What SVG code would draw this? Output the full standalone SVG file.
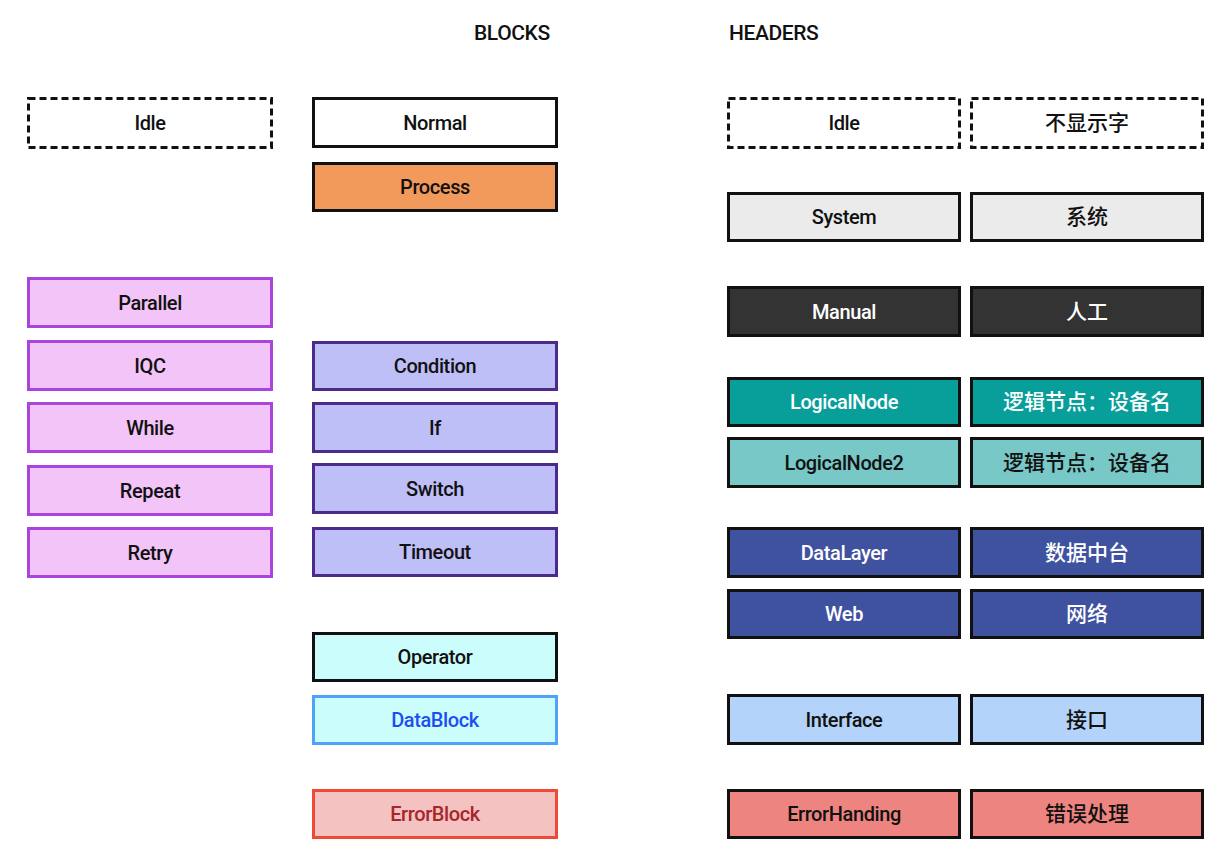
<svg xmlns="http://www.w3.org/2000/svg" width="1228" height="866" viewBox="0 0 1228 866">
<style>
text{font-family:Roboto,"Noto Sans CJK SC","Liberation Sans",sans-serif;font-size:20px;font-weight:500;text-anchor:middle;dominant-baseline:central;fill:#111;letter-spacing:-0.4px}
.cn{font-family:"Noto Sans CJK SC",sans-serif;font-size:21px;font-weight:500;letter-spacing:0;transform:translateY(-2px)}
.title{font-size:21px;text-anchor:start;dominant-baseline:alphabetic}
rect{stroke-width:3}
.idle{fill:#fff;stroke:#111;stroke-dasharray:7 4}
.normal{fill:#fff;stroke:#111}
.process{fill:#F2995C;stroke:#111}
.loop{fill:#F3C4F8;stroke:#A945DE}
.cond{fill:#BFBFF7;stroke:#4B2A8A}
.oper{fill:#CCFDFD;stroke:#111}
.data{fill:#CCFDFD;stroke:#4EA2F7}
.err{fill:#F5C2C2;stroke:#EE4A35}
.sys{fill:#EBEBEB;stroke:#111}
.man{fill:#333;stroke:#111}
.ln{fill:#089E9A;stroke:#111}
.ln2{fill:#78C8C8;stroke:#111}
.dl{fill:#3F52A0;stroke:#111}
.itf{fill:#B3D3FB;stroke:#111}
.eh{fill:#EE8480;stroke:#111}
.w{fill:#fff}
.blue{fill:#1B4FEF}
.red{fill:#A6262A}
</style>
<text class="title" x="474" y="40">BLOCKS</text>
<text class="title" x="729" y="40">HEADERS</text>

<g id="b-idle"><rect class="idle" x="28.5" y="98.5" width="243" height="49"/><text x="150" y="123">Idle</text></g>
<g id="b-parallel"><rect class="loop" x="28.5" y="278.5" width="243" height="48"/><text x="150" y="302.5">Parallel</text></g>
<g id="b-iqc"><rect class="loop" x="28.5" y="341.5" width="243" height="48"/><text x="150" y="365.5">IQC</text></g>
<g id="b-while"><rect class="loop" x="28.5" y="403.5" width="243" height="48"/><text x="150" y="427.5">While</text></g>
<g id="b-repeat"><rect class="loop" x="28.5" y="466.5" width="243" height="48"/><text x="150" y="490.5">Repeat</text></g>
<g id="b-retry"><rect class="loop" x="28.5" y="528.5" width="243" height="48"/><text x="150" y="552.5">Retry</text></g>

<g id="b-normal"><rect class="normal" x="313.5" y="98.5" width="243" height="48"/><text x="435" y="122.5">Normal</text></g>
<g id="b-process"><rect class="process" x="313.5" y="163.5" width="243" height="47"/><text x="435" y="187">Process</text></g>
<g id="b-condition"><rect class="cond" x="313.5" y="342.5" width="243" height="47"/><text x="435" y="366">Condition</text></g>
<g id="b-if"><rect class="cond" x="313.5" y="403.5" width="243" height="48"/><text x="435" y="427.5">If</text></g>
<g id="b-switch"><rect class="cond" x="313.5" y="464.5" width="243" height="48"/><text x="435" y="488.5">Switch</text></g>
<g id="b-timeout"><rect class="cond" x="313.5" y="528.5" width="243" height="47"/><text x="435" y="552">Timeout</text></g>
<g id="b-operator"><rect class="oper" x="313.5" y="633.5" width="243" height="47"/><text x="435" y="657">Operator</text></g>
<g id="b-datablock"><rect class="data" x="313.5" y="696.5" width="243" height="47"/><text class="blue" x="435" y="720">DataBlock</text></g>
<g id="b-errorblock"><rect class="err" x="313.5" y="790.5" width="243" height="47"/><text class="red" x="435" y="814">ErrorBlock</text></g>

<g id="h-idle"><rect class="idle" x="728.5" y="98.5" width="231" height="49"/><text x="844" y="123">Idle</text></g>
<g id="h-idle-cn"><rect class="idle" x="971.5" y="98.5" width="231" height="49"/><text class="cn" x="1087" y="123">不显示字</text></g>
<g id="h-system"><rect class="sys" x="728.5" y="193.5" width="231" height="47"/><text x="844" y="217">System</text></g>
<g id="h-system-cn"><rect class="sys" x="971.5" y="193.5" width="231" height="47"/><text class="cn" x="1087" y="217">系统</text></g>
<g id="h-manual"><rect class="man" x="728.5" y="287.5" width="231" height="48"/><text class="w" x="844" y="311.5">Manual</text></g>
<g id="h-manual-cn"><rect class="man" x="971.5" y="287.5" width="231" height="48"/><text class="cn w" x="1087" y="311.5">人工</text></g>
<g id="h-ln"><rect class="ln" x="728.5" y="378.5" width="231" height="47"/><text class="w" x="844" y="402">LogicalNode</text></g>
<g id="h-ln-cn"><rect class="ln" x="971.5" y="378.5" width="231" height="47"/><text class="cn w" x="1087" y="402">逻辑节点：设备名</text></g>
<g id="h-ln2"><rect class="ln2" x="728.5" y="438.5" width="231" height="48"/><text x="844" y="462.5">LogicalNode2</text></g>
<g id="h-ln2-cn"><rect class="ln2" x="971.5" y="438.5" width="231" height="48"/><text class="cn" x="1087" y="462.5">逻辑节点：设备名</text></g>
<g id="h-dl"><rect class="dl" x="728.5" y="528.5" width="231" height="48"/><text class="w" x="844" y="552.5">DataLayer</text></g>
<g id="h-dl-cn"><rect class="dl" x="971.5" y="528.5" width="231" height="48"/><text class="cn w" x="1087" y="552.5">数据中台</text></g>
<g id="h-web"><rect class="dl" x="728.5" y="590.5" width="231" height="47"/><text class="w" x="844" y="614">Web</text></g>
<g id="h-web-cn"><rect class="dl" x="971.5" y="590.5" width="231" height="47"/><text class="cn w" x="1087" y="614">网络</text></g>
<g id="h-itf"><rect class="itf" x="728.5" y="695.5" width="231" height="48"/><text x="844" y="719.5">Interface</text></g>
<g id="h-itf-cn"><rect class="itf" x="971.5" y="695.5" width="231" height="48"/><text class="cn" x="1087" y="719.5">接口</text></g>
<g id="h-eh"><rect class="eh" x="728.5" y="790.5" width="231" height="47"/><text x="844" y="814">ErrorHanding</text></g>
<g id="h-eh-cn"><rect class="eh" x="971.5" y="790.5" width="231" height="47"/><text class="cn" x="1087" y="814">错误处理</text></g>
<g id="connectors"/>
</svg>
